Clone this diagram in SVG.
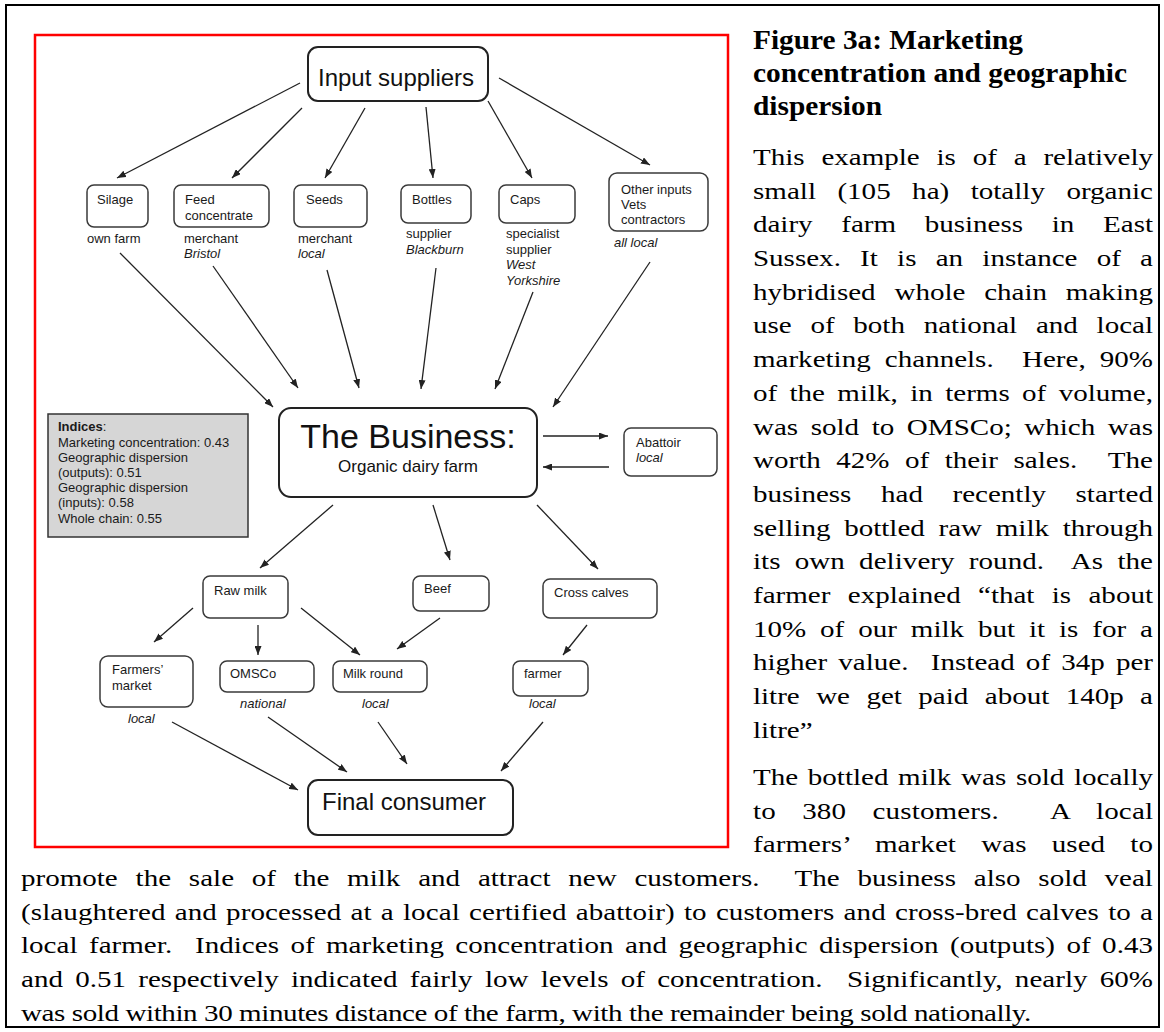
<svg xmlns="http://www.w3.org/2000/svg" width="1164" height="1032" viewBox="0 0 1164 1032">
<defs>
<marker id="ah" markerUnits="userSpaceOnUse" markerWidth="9" markerHeight="7" refX="9" refY="3.5" orient="auto">
<path d="M0,0 L9,3.5 L0,7 z" fill="#222"/>
</marker>
<style>
.box{fill:#fff;stroke:#3a3a3a;stroke-width:1.5}
.big{fill:#fff;stroke:#222;stroke-width:2}
.t{font-family:"Liberation Sans",Arial,sans-serif;font-size:13px;fill:#1a1a1a}
.i{font-style:italic}
.lg{font-family:"Liberation Sans",Arial,sans-serif;font-size:24px;fill:#111}
.body{font-family:"Liberation Serif","Times New Roman",serif;font-size:24px;fill:#000}
.title{font-family:"Liberation Serif","Times New Roman",serif;font-size:27px;font-weight:bold;fill:#000}
.conn line{stroke:#222;stroke-width:1.3;marker-end:url(#ah)}
</style>
</defs>
<rect x="0" y="0" width="1164" height="1032" fill="#fff"/>
<rect x="6" y="5" width="1153" height="1022" fill="none" stroke="#000" stroke-width="2"/>
<rect x="35" y="35" width="693" height="812" fill="none" stroke="#f00" stroke-width="2.5"/>

<g class="conn">
<line x1="300" y1="83" x2="117" y2="178"/>
<line x1="302" y1="108" x2="232" y2="178"/>
<line x1="365" y1="108" x2="325" y2="178"/>
<line x1="426" y1="107" x2="433" y2="178"/>
<line x1="488" y1="101" x2="532" y2="178"/>
<line x1="499" y1="78" x2="650" y2="165"/>
<line x1="120" y1="253" x2="273" y2="407"/>
<line x1="213" y1="266" x2="298" y2="388"/>
<line x1="327" y1="270" x2="359" y2="388"/>
<line x1="436" y1="268" x2="421" y2="389"/>
<line x1="533" y1="292" x2="495" y2="389"/>
<line x1="650" y1="262" x2="553" y2="407"/>
<line x1="543" y1="436" x2="608" y2="436"/>
<line x1="609" y1="467" x2="543" y2="467"/>
<line x1="333" y1="505" x2="260" y2="568"/>
<line x1="433" y1="505" x2="450" y2="560"/>
<line x1="537" y1="505" x2="598" y2="569"/>
<line x1="193" y1="608" x2="154" y2="642"/>
<line x1="258" y1="625" x2="258" y2="655"/>
<line x1="301" y1="608" x2="360" y2="655"/>
<line x1="440" y1="618" x2="397" y2="649"/>
<line x1="587" y1="625" x2="563" y2="655"/>
<line x1="172" y1="722" x2="298" y2="790"/>
<line x1="268" y1="717" x2="347" y2="772"/>
<line x1="378" y1="722" x2="407" y2="764"/>
<line x1="543" y1="722" x2="501" y2="771"/>
</g>

<g id="input-suppliers">
<rect class="big" x="308" y="47" width="180" height="54" rx="10"/>
<text class="lg" x="318" y="86">Input suppliers</text>
</g>
<g id="silage">
<rect class="box" x="87" y="185" width="61" height="42" rx="7"/>
<text class="t" x="97" y="204">Silage</text>
<text class="t" x="87" y="243">own farm</text>
</g>
<g id="feed">
<rect class="box" x="174" y="185" width="95" height="42" rx="7"/>
<text class="t" x="185" y="204">Feed</text>
<text class="t" x="185" y="220">concentrate</text>
<text class="t" x="184" y="243">merchant</text>
<text class="t i" x="184" y="258">Bristol</text>
</g>
<g id="seeds">
<rect class="box" x="294" y="185" width="73" height="42" rx="7"/>
<text class="t" x="306" y="204">Seeds</text>
<text class="t" x="298" y="243">merchant</text>
<text class="t i" x="298" y="258">local</text>
</g>
<g id="bottles">
<rect class="box" x="401" y="185" width="70" height="38" rx="7"/>
<text class="t" x="412" y="204">Bottles</text>
<text class="t" x="406" y="238">supplier</text>
<text class="t i" x="406" y="254">Blackburn</text>
</g>
<g id="caps">
<rect class="box" x="499" y="185" width="76" height="38" rx="7"/>
<text class="t" x="510" y="204">Caps</text>
<text class="t" x="506" y="238">specialist</text>
<text class="t" x="506" y="254">supplier</text>
<text class="t i" x="506" y="269">West</text>
<text class="t i" x="506" y="285">Yorkshire</text>
</g>
<g id="other-inputs">
<rect class="box" x="609" y="173" width="99" height="58" rx="8"/>
<text class="t" x="621" y="194">Other inputs</text>
<text class="t" x="621" y="209">Vets</text>
<text class="t" x="621" y="224">contractors</text>
<text class="t i" x="614" y="247">all local</text>
</g>
<g id="business">
<rect class="big" x="279" y="408" width="258" height="89" rx="12"/>
<text x="408" y="448" text-anchor="middle" style="font-family:'Liberation Sans',Arial,sans-serif;font-size:34px;fill:#111">The Business:</text>
<text x="408" y="472" text-anchor="middle" style="font-family:'Liberation Sans',Arial,sans-serif;font-size:17px;fill:#111">Organic dairy farm</text>
</g>
<g id="abattoir">
<rect class="box" x="624" y="428" width="93" height="48" rx="7"/>
<text class="t" x="636" y="447">Abattoir</text>
<text class="t i" x="636" y="462">local</text>
</g>
<g id="indices">
<rect x="48" y="414" width="200" height="123" fill="#d6d6d6" stroke="#333" stroke-width="1.5"/>
<text class="t" x="58" y="431"><tspan font-weight="bold">Indices</tspan>:</text>
<text class="t" x="58" y="447">Marketing concentration: 0.43</text>
<text class="t" x="58" y="462">Geographic dispersion</text>
<text class="t" x="58" y="477">(outputs): 0.51</text>
<text class="t" x="58" y="492">Geographic dispersion</text>
<text class="t" x="58" y="507">(inputs): 0.58</text>
<text class="t" x="58" y="523">Whole chain: 0.55</text>
</g>
<g id="raw-milk">
<rect class="box" x="203" y="576" width="85" height="42" rx="7"/>
<text class="t" x="214" y="595">Raw milk</text>
</g>
<g id="beef">
<rect class="box" x="413" y="576" width="76" height="35" rx="7"/>
<text class="t" x="424" y="593">Beef</text>
</g>
<g id="cross-calves">
<rect class="box" x="543" y="579" width="114" height="39" rx="7"/>
<text class="t" x="554" y="597">Cross calves</text>
</g>
<g id="farmers-market">
<rect class="box" x="100" y="656" width="93" height="51" rx="8"/>
<text class="t" x="112" y="674">Farmers’</text>
<text class="t" x="112" y="690">market</text>
<text class="t i" x="128" y="723">local</text>
</g>
<g id="omsco">
<rect class="box" x="220" y="661" width="94" height="31" rx="7"/>
<text class="t" x="230" y="678">OMSCo</text>
<text class="t i" x="240" y="708">national</text>
</g>
<g id="milk-round">
<rect class="box" x="333" y="661" width="94" height="31" rx="7"/>
<text class="t" x="343" y="678">Milk round</text>
<text class="t i" x="362" y="708">local</text>
</g>
<g id="farmer">
<rect class="box" x="513" y="661" width="75" height="35" rx="7"/>
<text class="t" x="524" y="678">farmer</text>
<text class="t i" x="529" y="708">local</text>
</g>
<g id="final-consumer">
<rect class="big" x="308" y="780" width="205" height="55" rx="10"/>
<text class="lg" x="322" y="810">Final consumer</text>
</g>

<g id="caption">
<text class="title" x="753" y="49" textLength="270" lengthAdjust="spacingAndGlyphs">Figure 3a: Marketing</text>
<text class="title" x="753" y="82" textLength="374" lengthAdjust="spacingAndGlyphs">concentration and geographic</text>
<text class="title" x="753" y="115" textLength="129" lengthAdjust="spacingAndGlyphs">dispersion</text>
<g transform="scale(1.21,1)" class="body">
<text x="622.3" y="165" word-spacing="7.9" textLength="330.6" lengthAdjust="spacing">This example is of a relatively</text>
<text x="622.3" y="198.7" word-spacing="11.7" textLength="330.6" lengthAdjust="spacing">small (105 ha) totally organic</text>
<text x="622.3" y="232.4" word-spacing="17.7" textLength="330.6" lengthAdjust="spacing">dairy farm business in East</text>
<text x="622.3" y="266.1" word-spacing="9.9" textLength="330.6" lengthAdjust="spacing">Sussex. It is an instance of a</text>
<text x="622.3" y="299.8" word-spacing="9.5" textLength="330.6" lengthAdjust="spacing">hybridised whole chain making</text>
<text x="622.3" y="333.5" word-spacing="9.5" textLength="330.6" lengthAdjust="spacing">use of both national and local</text>
<text x="622.3" y="367.2" word-spacing="5.7" textLength="330.6" lengthAdjust="spacing">marketing channels.&#160; Here, 90%</text>
<text x="622.3" y="400.9" word-spacing="4.2" textLength="330.6" lengthAdjust="spacing">of the milk, in terms of volume,</text>
<text x="622.3" y="434.6" word-spacing="4.4" textLength="330.6" lengthAdjust="spacing">was sold to OMSCo; which was</text>
<text x="622.3" y="468.3" word-spacing="6.8" textLength="330.6" lengthAdjust="spacing">worth 42% of their sales.&#160; The</text>
<text x="622.3" y="502" word-spacing="18.4" textLength="330.6" lengthAdjust="spacing">business had recently started</text>
<text x="622.3" y="535.7" word-spacing="5.3" textLength="330.6" lengthAdjust="spacing">selling bottled raw milk through</text>
<text x="622.3" y="569.4" word-spacing="5.7" textLength="330.6" lengthAdjust="spacing">its own delivery round.&#160; As the</text>
<text x="622.3" y="603.1" word-spacing="8.3" textLength="330.6" lengthAdjust="spacing">farmer explained “that is about</text>
<text x="622.3" y="636.8" word-spacing="5.5" textLength="330.6" lengthAdjust="spacing">10% of our milk but it is for a</text>
<text x="622.3" y="670.5" word-spacing="3.2" textLength="330.6" lengthAdjust="spacing">higher value.&#160; Instead of 34p per</text>
<text x="622.3" y="704.2" word-spacing="7.6" textLength="330.6" lengthAdjust="spacing">litre we get paid about 140p a</text>
<text x="622.3" y="737.9">litre”</text>
<text x="622.3" y="785" word-spacing="2" textLength="330.6" lengthAdjust="spacing">The bottled milk was sold locally</text>
<text x="622.3" y="818.7" word-spacing="15.7" textLength="330.6" lengthAdjust="spacing">to 380 customers.&#160; A local</text>
<text x="622.3" y="852.4" word-spacing="14.7" textLength="330.6" lengthAdjust="spacing">farmers’ market was used to</text>
<text x="17.36" y="886.1" word-spacing="8.7" textLength="935.5" lengthAdjust="spacing">promote the sale of the milk and attract new customers.&#160; The business also sold veal</text>
<text x="17.36" y="919.8" word-spacing="1.5" textLength="935.5" lengthAdjust="spacing">(slaughtered and processed at a local certified abattoir) to customers and cross-bred calves to a</text>
<text x="17.36" y="953.5" word-spacing="3.4" textLength="935.5" lengthAdjust="spacing">local farmer.&#160; Indices of marketing concentration and geographic dispersion (outputs) of 0.43</text>
<text x="17.36" y="987.2" word-spacing="4.1" textLength="935.5" lengthAdjust="spacing">and 0.51 respectively indicated fairly low levels of concentration.&#160; Significantly, nearly 60%</text>
<text x="17.36" y="1020.9" textLength="835" lengthAdjust="spacing">was sold within 30 minutes distance of the farm, with the remainder being sold nationally.</text>
</g>
</g>
</svg>
